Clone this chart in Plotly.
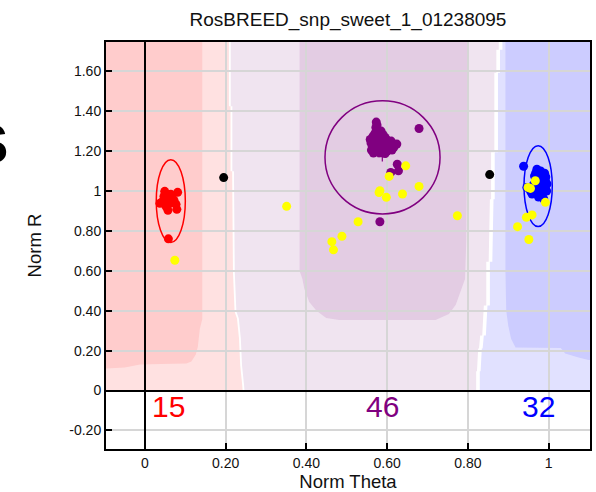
import plotly.graph_objects as go

TITLE = "RosBREED_snp_sweet_1_01238095"

# --- genotype calls (Norm Theta, Norm R) ---
aa_theta = [0.049, 0.081, 0.064, 0.044, 0.057, 0.072, 0.037, 0.062, 0.077, 0.052,
            0.057, 0.079, 0.067, 0.047, 0.058]
aa_r = [0.998, 0.993, 0.983, 0.948, 0.963, 0.953, 0.938, 0.938, 0.933, 0.923,
        0.903, 0.908, 0.968, 0.973, 0.760]

ab_theta = [0.573, 0.575, 0.572, 0.578, 0.585, 0.570, 0.580, 0.590, 0.565, 0.575,
            0.585, 0.595, 0.558, 0.570, 0.580, 0.590, 0.600, 0.610, 0.560, 0.572,
            0.582, 0.592, 0.602, 0.614, 0.624, 0.563, 0.575, 0.585, 0.595, 0.605,
            0.617, 0.561, 0.573, 0.590, 0.600, 0.612, 0.566, 0.580, 0.595, 0.605,
            0.588, 0.679, 0.625, 0.628, 0.609, 0.582]
ab_r = [1.345, 1.330, 1.318, 1.305, 1.300, 1.290, 1.288, 1.282, 1.275, 1.272,
        1.270, 1.268, 1.258, 1.255, 1.255, 1.252, 1.255, 1.250, 1.240, 1.238,
        1.240, 1.236, 1.238, 1.232, 1.235, 1.222, 1.225, 1.220, 1.222, 1.218,
        1.220, 1.205, 1.208, 1.205, 1.200, 1.205, 1.190, 1.192, 1.188, 1.215,
        1.262, 1.313, 1.134, 1.101, 1.093, 0.846]

bb_theta = [0.938, 0.971, 0.990, 0.975, 0.992, 0.979, 0.946, 0.975, 0.988, 0.959,
            0.983, 0.988, 0.979, 0.965, 0.982, 0.968, 0.985, 0.972, 0.996, 0.962,
            0.980, 0.990, 0.970, 0.955, 0.978, 0.995, 0.965, 0.985, 0.975, 0.968,
            0.980, 0.993]
bb_r = [1.124, 1.109, 1.089, 1.068, 1.051, 1.043, 1.018, 1.018, 1.001, 0.985,
        0.976, 0.960, 0.993, 1.075, 1.080, 1.055, 1.062, 1.040, 1.035, 1.030,
        1.025, 1.015, 1.005, 1.000, 1.008, 1.000, 0.995, 0.985, 0.970, 1.090,
        1.100, 1.070]

nc_theta = [0.074, 0.351, 0.646, 0.605, 0.582, 0.580, 0.598, 0.638, 0.679, 0.528,
            0.488, 0.463, 0.467, 0.774, 0.967, 0.955, 0.949, 0.992, 0.959, 0.945,
            0.923, 0.951]
nc_r = [0.653, 0.923, 1.126, 1.073, 1.001, 0.992, 0.968, 0.985, 1.023, 0.846,
        0.773, 0.746, 0.705, 0.876, 1.051, 1.013, 1.018, 0.943, 0.880, 0.868,
        0.821, 0.757]

unk_theta = [0.195, 0.854]
unk_r = [1.067, 1.082]

# cluster summary: centre theta, counts, ellipse bounds
cluster_colors = ["#ff0000", "#800080", "#0000ff"]
cluster_counts = [15, 46, 32]
cluster_center_theta = [0.059, 0.588, 0.975]
ellipse_theta = [(0.028, 0.100), (0.446, 0.731), (0.939, 1.009)]
ellipse_r = [(0.742, 1.157), (0.885, 1.452), (0.822, 1.227)]
ab_mean = (0.588, 1.172)

x_tickvals = [0, 0.2, 0.4, 0.6, 0.8, 1.0]
x_ticktext = ["0", "0.20", "0.40", "0.60", "0.80", "1"]
y_tickvals = [-0.2, 0, 0.2, 0.4, 0.6, 0.8, 1.0, 1.2, 1.4, 1.6]
y_ticktext = ["-0.20", "0", "0.20", "0.40", "0.60", "0.80", "1", "1.20", "1.40", "1.60"]

X_RANGE = [-0.0965, 1.1025]
Y_RANGE = [-0.293, 1.7465]
TOP = 1.8

# classification region outlines
red_edge = [(0.208, TOP), (0.208, 1.424), (0.212, 1.424), (0.212, 1.099), (0.216, 1.099),
            (0.218, 0.595), (0.222, 0.396), (0.228, 0.361), (0.233, 0.261),
            (0.236, 0.126), (0.241, 0.026), (0.242, 0.0)]
blue_edge = [(0.881, TOP), (0.881, 1.708), (0.875, 1.708), (0.875, 1.593), (0.870, 1.593),
             (0.870, 1.194), (0.862, 1.194), (0.862, 0.959), (0.859, 0.959),
             (0.856, 0.645), (0.850, 0.645), (0.850, 0.426), (0.844, 0.426),
             (0.840, 0.276), (0.835, 0.276), (0.832, 0.211), (0.830, 0.211),
             (0.827, 0.096), (0.825, 0.096), (0.825, 0.0)]
red_core = [(-0.2, TOP), (0.142, TOP), (0.142, 0.359), (0.136, 0.309), (0.131, 0.22),
            (0.126, 0.180), (0.115, 0.145), (0.103, 0.135), (0.040, 0.133),
            (-0.012, 0.130), (-0.05, 0.115), (-0.2, 0.101)]
purple_core = [(0.383, TOP), (0.383, 0.60), (0.390, 0.559), (0.395, 0.509), (0.407, 0.444),
               (0.425, 0.400), (0.449, 0.364), (0.481, 0.354), (0.720, 0.354),
               (0.753, 0.384), (0.770, 0.430), (0.784, 0.509), (0.793, 0.559),
               (0.796, 0.75), (0.801, TOP)]
blue_core = [(0.893, TOP), (0.893, 0.60), (0.895, 0.40), (0.900, 0.324), (0.907, 0.26),
             (0.918, 0.215), (1.03, 0.213), (1.041, 0.186), (1.074, 0.165),
             (1.099, 0.153), (1.2, 0.150), (1.2, TOP)]

GAP = 0.0045


def path(pts):
    return "M " + " L ".join(f"{x},{y}" for x, y in pts) + " Z"


light_red = [(-0.2, 0.0), (-0.2, TOP)] + red_edge
light_purple = [(x + GAP, y) for x, y in red_edge][::-1] + [(x - GAP, y) for x, y in blue_edge]
light_blue = [(x + GAP, y) for x, y in blue_edge] + [(1.2, 0.0), (1.2, TOP)]

regions = [
    (light_red, "#ffe1e1"),
    (light_purple, "#f0e4f0"),
    (light_blue, "#e1e1ff"),
    (red_core, "#ffcccc"),
    (purple_core, "#e3cce3"),
    (blue_core, "#ccccff"),
]

shapes = []
for pts, col in regions:
    shapes.append(dict(type="path", path=path(pts), xref="x", yref="y",
                       fillcolor=col, line=dict(width=0), layer="below"))
for (x0, x1), (y0, y1), col in zip(ellipse_theta, ellipse_r, cluster_colors):
    shapes.append(dict(type="circle", xref="x", yref="y", x0=x0, x1=x1, y0=y0, y1=y1,
                       line=dict(color=col, width=1.5), layer="between"))

fig = go.Figure()
MS = 9
fig.add_trace(go.Scatter(x=unk_theta, y=unk_r, mode="markers",
                         marker=dict(color="#000000", size=MS)))
fig.add_trace(go.Scatter(x=aa_theta, y=aa_r, mode="markers",
                         marker=dict(color=cluster_colors[0], size=MS)))
fig.add_trace(go.Scatter(x=ab_theta, y=ab_r, mode="markers",
                         marker=dict(color=cluster_colors[1], size=MS)))
fig.add_trace(go.Scatter(x=[ab_mean[0]], y=[ab_mean[1]], mode="markers",
                         marker=dict(symbol="cross-thin", size=7,
                                     line=dict(color=cluster_colors[1], width=1.2))))
fig.add_trace(go.Scatter(x=bb_theta, y=bb_r, mode="markers",
                         marker=dict(color=cluster_colors[2], size=MS)))
fig.add_trace(go.Scatter(x=nc_theta, y=nc_r, mode="markers",
                         marker=dict(color="#ffff00", size=MS)))

annotations = []
for th, n, col in zip(cluster_center_theta, cluster_counts, cluster_colors):
    annotations.append(dict(x=th, y=-0.078, xref="x", yref="y", text=str(n),
                            showarrow=False, xanchor="center", yanchor="middle",
                            font=dict(size=30, color=col)))
annotations.append(dict(x=-0.198, y=0.75, xref="paper", yref="paper", text="<b>S</b>",
                        showarrow=False, xanchor="right", yanchor="middle",
                        font=dict(size=56, color="#000000")))

FONT = "Liberation Sans, Arial, sans-serif"
axis_common = dict(showgrid=True, gridcolor="#d6d6d6", gridwidth=2,
                   zeroline=True, zerolinecolor="#000000", zerolinewidth=2,
                   showline=True, linecolor="#000000", linewidth=2, mirror=True,
                   ticks="inside", ticklen=6, tickwidth=2, tickcolor="#000000",
                   tickfont=dict(size=14, color="#111111", family=FONT))

fig.update_layout(
    width=596, height=492,
    margin=dict(l=106, r=4, t=42, b=41),
    paper_bgcolor="#ffffff", plot_bgcolor="#ffffff",
    showlegend=False,
    font=dict(family=FONT, color="#111111"),
    title=dict(text=TITLE, x=0.5, xref="paper", xanchor="center",
               y=1 - 19 / 492, yref="container", yanchor="middle",
               font=dict(size=19, color="#111111", family=FONT)),
    xaxis=dict(range=X_RANGE, tickvals=x_tickvals, ticktext=x_ticktext,
               title=dict(text="Norm Theta", font=dict(size=18.5, family=FONT), standoff=4),
               **axis_common),
    yaxis=dict(range=Y_RANGE, tickvals=y_tickvals, ticktext=y_ticktext,
               title=dict(text="Norm R", font=dict(size=18.5, family=FONT), standoff=23),
               **axis_common),
    shapes=shapes,
    annotations=annotations,
)

fig.write_html("out.html")
